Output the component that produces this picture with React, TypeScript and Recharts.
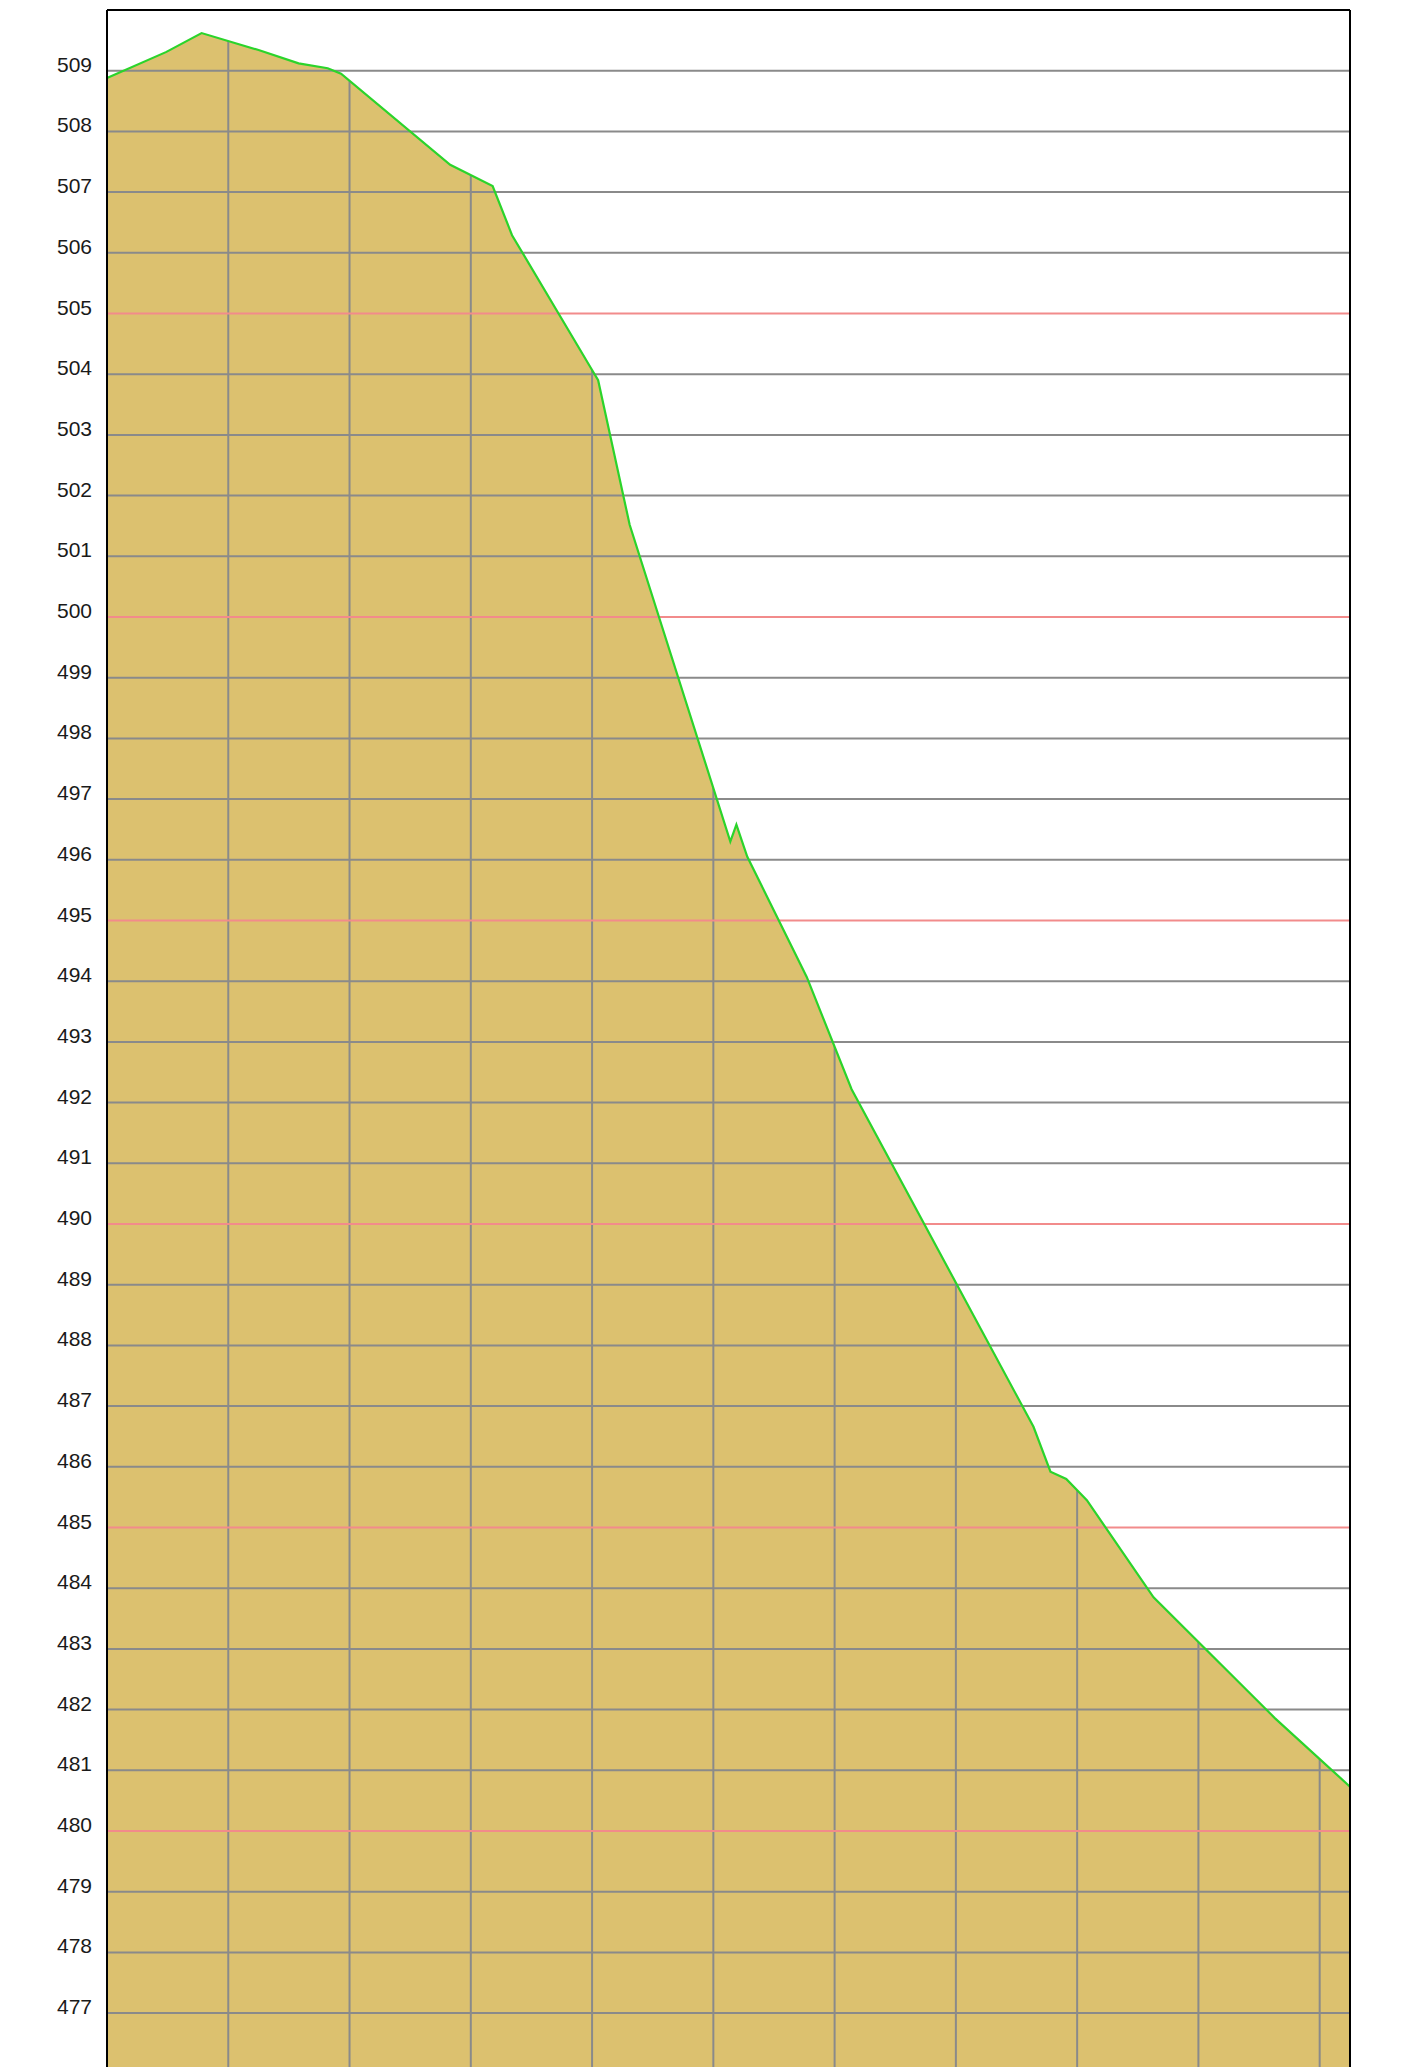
import { ComposedChart, Area, Line, XAxis, YAxis, CartesianGrid, ReferenceLine } from 'recharts';

// distance along the profile (m) and ground level (m)
const distances = [0, 49, 78, 125, 158, 182, 193, 283, 318, 334, 400, 405, 431, 514, 519, 528, 577, 614, 764, 778, 791, 808, 863, 963, 1025];
const elevations = [508.88, 509.31, 509.62, 509.34, 509.12, 509.04, 508.95, 507.45, 507.1, 506.29, 504.07, 503.9, 501.52, 496.3, 496.58, 496.05, 494.07, 492.22, 486.66, 485.92, 485.8, 485.45, 483.85, 481.86, 480.73];

const xTicks = [0, 100, 200, 300, 400, 500, 600, 700, 800, 900, 1000];
const yTicks = [477, 478, 479, 480, 481, 482, 483, 484, 485, 486, 487, 488, 489, 490, 491, 492, 493, 494, 495, 496, 497, 498, 499, 500, 501, 502, 503, 504, 505, 506, 507, 508, 509];

const X_MAX = 1025;
const Y_MIN = 470;
const Y_MAX = 510;

const data = distances.map((d, i) => ({ d, elev: elevations[i] }));

const FILL = '#DCC16F';
const GRID = '#8a8a8a';
const RED = '#F28B8B';

function LeftTick(props: any) {
  const { x, y, payload } = props;
  return (
    <text x={x} y={y + 1} textAnchor="end" fill="#1a1a1a" fontSize={21} fontFamily="'Liberation Sans', Arial, sans-serif">
      {payload.value}
    </text>
  );
}

function RightTick(props: any) {
  const { x, y, payload } = props;
  return (
    <text x={x} y={y + 1} textAnchor="start" fill="#1a1a1a" fontSize={21} fontFamily="'Liberation Sans', Arial, sans-serif">
      {payload.value}
    </text>
  );
}

export default function App() {
  return (
    <div style={{ position: 'absolute', left: 0, top: 0, width: 1412, height: 2067, overflow: 'hidden', background: '#fff' }}>
      <ComposedChart width={1412} height={2438} data={data} margin={{ top: 10, right: 0, bottom: 0, left: 0 }}>
        <XAxis dataKey="d" type="number" domain={[0, X_MAX]} ticks={xTicks} hide />
        <YAxis
          yAxisId="l"
          orientation="left"
          width={107}
          type="number"
          domain={[Y_MIN, Y_MAX]}
          ticks={yTicks}
          interval={0}
          tickLine={false}
          tickSize={6}
          tickMargin={9}
          axisLine={{ stroke: '#000', strokeWidth: 2 }}
          tick={<LeftTick />}
        />
        <YAxis
          yAxisId="r"
          orientation="right"
          width={62}
          type="number"
          domain={[Y_MIN, Y_MAX]}
          ticks={yTicks}
          interval={0}
          tickLine={false}
          tickSize={6}
          tickMargin={10}
          axisLine={{ stroke: '#000', strokeWidth: 2 }}
          tick={<RightTick />}
        />
        <CartesianGrid yAxisId="l" horizontal={false} stroke={GRID} strokeWidth={2} fill={FILL} fillOpacity={1} />
        {/* white above the ground line hides the vertical grid there */}
        <Area
          yAxisId="l"
          type="linear"
          dataKey="elev"
          baseValue={Y_MAX}
          fill="#ffffff"
          fillOpacity={1}
          stroke="none"
          dot={false}
          activeDot={false}
          isAnimationActive={false}
        />
        {yTicks.map((v) => (
          <ReferenceLine key={v} yAxisId="l" y={v} stroke={v % 5 === 0 ? RED : GRID} strokeWidth={2} />
        ))}
        <ReferenceLine yAxisId="l" y={Y_MAX} stroke="#000" strokeWidth={2} />
        <Line
          yAxisId="l"
          type="linear"
          dataKey="elev"
          stroke="#2bd42b"
          strokeWidth={2.2}
          dot={false}
          activeDot={false}
          isAnimationActive={false}
        />
      </ComposedChart>
    </div>
  );
}
